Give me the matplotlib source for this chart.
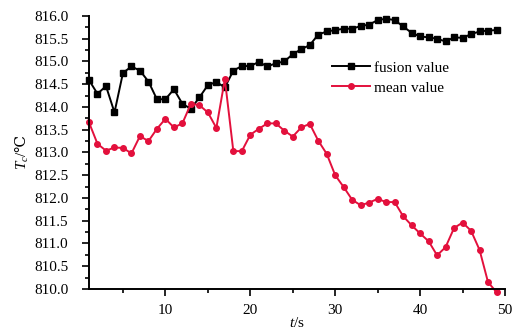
import numpy as np
import matplotlib
matplotlib.use("Agg")
import matplotlib.pyplot as plt
from matplotlib.ticker import MultipleLocator

plt.rcParams['font.family'] = ['Liberation Serif', 'DejaVu Serif']
plt.rcParams['mathtext.fontset'] = 'custom'
plt.rcParams['mathtext.it'] = 'Liberation Serif:italic'
plt.rcParams['mathtext.rm'] = 'DejaVu Serif'

# time in seconds
t = np.arange(1, 50)
# fusion value
fusion = [814.59, 814.29, 814.46, 813.88, 814.75, 814.89, 814.80, 814.56, 814.17, 814.17,
          814.39, 814.07, 813.96, 814.21, 814.48, 814.55, 814.43, 814.80, 814.90, 814.90,
          814.99, 814.89, 814.96, 815.00, 815.16, 815.27, 815.36, 815.59, 815.66, 815.69,
          815.72, 815.72, 815.78, 815.81, 815.91, 815.94, 815.91, 815.77, 815.63, 815.55,
          815.53, 815.50, 815.44, 815.53, 815.52, 815.60, 815.66, 815.68, 815.69]
# mean value
mean = [813.66, 813.19, 813.04, 813.11, 813.10, 812.98, 813.36, 813.25, 813.52, 813.74,
        813.55, 813.64, 814.07, 814.04, 813.88, 813.54, 814.61, 813.03, 813.03, 813.39,
        813.52, 813.64, 813.64, 813.48, 813.35, 813.55, 813.63, 813.26, 812.97, 812.50,
        812.24, 811.96, 811.84, 811.90, 811.98, 811.91, 811.91, 811.60, 811.40, 811.22,
        811.05, 810.74, 810.92, 811.34, 811.46, 811.28, 810.86, 810.15, 809.93]

fig = plt.figure(figsize=(5.16, 3.29), dpi=100)
ax = fig.add_axes([0.1725, 0.1216, 0.8062, 0.8298])

ax.plot(t, fusion, color='black', marker='s', markersize=4, linewidth=1.4,
        label='fusion value', clip_on=False)
ax.plot(t, mean, color='#e3103c', marker='o', markersize=4, linewidth=1.4,
        label='mean value', clip_on=False)

ax.set_xlim(1, 50)
ax.set_ylim(810, 816)
ax.xaxis.set_major_locator(MultipleLocator(10))
ax.xaxis.set_minor_locator(MultipleLocator(5))
ax.yaxis.set_major_locator(MultipleLocator(0.5))
ax.yaxis.set_minor_locator(MultipleLocator(0.25))
ax.yaxis.set_major_formatter(matplotlib.ticker.FormatStrFormatter('%.1f'))
ax.tick_params(which='both', direction='out', labelsize=11, width=1.2)
ax.tick_params(which='major', length=5)
ax.tick_params(which='minor', length=3)
ax.tick_params(axis='y', which='major', pad=10)
ax.tick_params(axis='x', which='major', pad=6)
ax.spines['top'].set_visible(False)
ax.spines['right'].set_visible(False)
ax.spines['left'].set_linewidth(1.4)
ax.spines['bottom'].set_linewidth(1.4)

ax.set_xlabel('$t$/s', fontsize=11, labelpad=-1)
ax.set_ylabel('$T_c$/$\\mathrm{℃}$', fontsize=11, labelpad=2)

ax.legend(loc='upper left', bbox_to_anchor=(0.55, 0.885), frameon=False,
          fontsize=11, handlelength=2.5, handletextpad=0.3, labelspacing=0.4)

plt.savefig("out.png", dpi=100)
